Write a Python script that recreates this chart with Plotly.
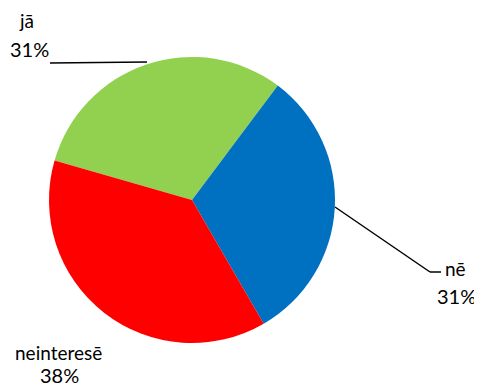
import plotly.graph_objs as go

labels = ['jā', 'nē', 'neinteresē']
values = [30.8, 31.4, 37.8]
colors = ['#92D050', '#0070C0', '#FF0000']

# page body has an 8px margin, so shift everything by that
OFF = 8
W, H = 482 - OFF, 387 - OFF
L, R, T, B = 49 - OFF, 147, 57 - OFF, 44
pw, ph = W - L - R, H - T - B


def px(x, y):
    # reference pixel -> paper coordinates
    return (x - OFF - L) / pw, (H - B - (y - OFF)) / ph


fig = go.Figure(go.Pie(labels=labels, values=values, sort=False, direction='clockwise',
                       rotation=286, marker=dict(colors=colors, line=dict(width=0)),
                       textinfo='none', hoverinfo='label+percent'))

# labels with percentages (two lines each, placed separately)
total = sum(values)
label_pos = [((26, 20), (29, 49)), ((455, 268), (456, 296)), ((58, 352), (59, 375))]
annotations = []
for lab, v, (p1, p2) in zip(labels, values, label_pos):
    for txt, (x, y), size in [(lab, p1, 19), (f'{round(v / total * 100)}%', p2, 20)]:
        ax, ay = px(x, y)
        annotations.append(dict(x=ax, y=ay, xref='paper', yref='paper', showarrow=False,
                                text=txt, xanchor='center', yanchor='middle',
                                font=dict(family='Lato', size=size, color='#000000')))

# leader lines
shapes = []
for pts in [[(50, 63), (147, 62)], [(335, 207), (430, 272), (441, 272)]]:
    for (x0, y0), (x1, y1) in zip(pts[:-1], pts[1:]):
        a0, b0 = px(x0, y0)
        a1, b1 = px(x1, y1)
        shapes.append(dict(type='line', xref='paper', yref='paper', x0=a0, y0=b0, x1=a1, y1=b1,
                           line=dict(color='#000000', width=1.5)))

fig.update_layout(width=W, height=H, margin=dict(l=L, r=R, t=T, b=B), showlegend=False,
                  paper_bgcolor='white', plot_bgcolor='white',
                  annotations=annotations, shapes=shapes)

fig.write_html("out.html")
